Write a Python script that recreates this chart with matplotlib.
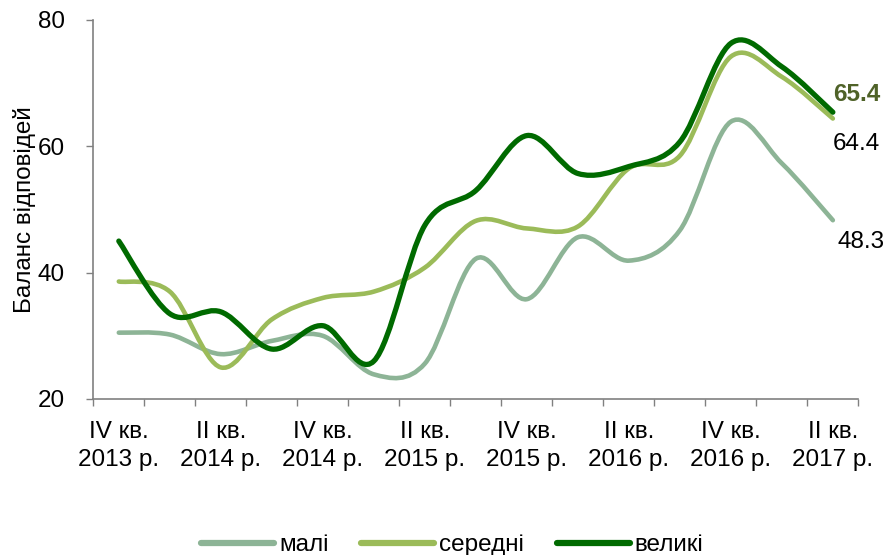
import matplotlib
matplotlib.use("Agg")
import matplotlib.pyplot as plt
from matplotlib.path import Path
from matplotlib.patches import PathPatch
from matplotlib.lines import Line2D
import numpy as np

plt.rcParams['font.family'] = ['Liberation Sans', 'DejaVu Sans']

quarters = ["IV кв.\n2013 р.", "I кв.\n2014 р.", "II кв.\n2014 р.", "III кв.\n2014 р.",
            "IV кв.\n2014 р.", "I кв.\n2015 р.", "II кв.\n2015 р.", "III кв.\n2015 р.",
            "IV кв.\n2015 р.", "I кв.\n2016 р.", "II кв.\n2016 р.", "III кв.\n2016 р.",
            "IV кв.\n2016 р.", "I кв.\n2017 р.", "II кв.\n2017 р."]
mali = [30.5, 30.2, 27.1, 29.2, 30.0, 23.9, 25.6, 42.2, 35.8, 45.6, 41.9, 46.7, 63.9, 57.3, 48.3]
seredni = [38.6, 37.0, 25.0, 32.6, 36.0, 37.0, 40.8, 48.2, 47.0, 47.3, 56.5, 58.5, 74.2, 71.0, 64.4]
velyki = [45.0, 33.5, 33.8, 27.9, 31.6, 26.0, 47.5, 53.0, 61.7, 55.7, 56.8, 60.7, 76.3, 72.6, 65.4]
series_names = ["малі", "середні", "великі"]
colors = ["#8DB496", "#9BBB59", "#006A00"]
widths = [3.3, 3.3, 3.8]

FS = 17.5

fig = plt.figure(figsize=(8.87, 5.55), dpi=100)
ax = fig.add_axes([0.1052, 0.2811, 0.9677 - 0.1052, 0.964 - 0.2811])


def smooth_path(xs, ys):
    pts = np.column_stack([xs, ys]).astype(float)
    n = len(pts)
    verts = [pts[0]]
    codes = [Path.MOVETO]
    for i in range(n - 1):
        p0 = pts[i - 1] if i > 0 else pts[i]
        p1 = pts[i]
        p2 = pts[i + 1]
        p3 = pts[i + 2] if i + 2 < n else pts[i + 1]
        c1 = p1 + (p2 - p0) / 6.0
        c2 = p2 - (p3 - p1) / 6.0
        verts += [c1, c2, p2]
        codes += [Path.CURVE4] * 3
    return Path(verts, codes)


x = np.arange(len(quarters))
for vals, c, lw in zip([mali, seredni, velyki], colors, widths):
    patch = PathPatch(smooth_path(x, vals), facecolor='none', edgecolor=c,
                      lw=lw, capstyle='round', joinstyle='round')
    ax.add_patch(patch)

ax.set_xlim(-0.5, len(quarters) - 0.5)
ax.set_ylim(20, 80)
ax.set_yticks([20, 40, 60, 80])
ax.tick_params(axis='y', labelsize=FS, length=5, width=1, color='#808080', pad=15.5)

ax.set_xticks(np.arange(-0.5, len(quarters), 1.0))
ax.set_xticklabels([])
ax.tick_params(axis='x', which='major', length=5, width=1, color='#808080')
ax.set_xticks(x[::2], minor=True)
ax.set_xticklabels([quarters[i] for i in x[::2]], minor=True, fontsize=FS, linespacing=1.35)
ax.tick_params(axis='x', which='minor', length=0, pad=16)

for s in ['top', 'right']:
    ax.spines[s].set_visible(False)
for s in ['left', 'bottom']:
    ax.spines[s].set_color('#808080')
    ax.spines[s].set_linewidth(1.2)

ax.set_ylabel("Баланс відповідей", fontsize=FS, labelpad=1)

last = len(quarters) - 1
ax.annotate(f"{velyki[-1]:.1f}", (last, velyki[-1]), xytext=(0, 13), textcoords='offset points',
            fontsize=FS, fontweight='bold', color='#4F6228', va='center', ha='left')
ax.annotate(f"{seredni[-1]:.1f}", (last, seredni[-1]), xytext=(0, -18), textcoords='offset points',
            fontsize=FS, color='black', va='center', ha='left')
ax.annotate(f"{mali[-1]:.1f}", (last, mali[-1]), xytext=(3, -15.5), textcoords='offset points',
            fontsize=FS, color='black', va='center', ha='left')

handles = [Line2D([0], [0], color=c, lw=4.5, solid_capstyle='round') for c in colors]
fig.legend(handles, series_names, loc='center', bbox_to_anchor=(0.51, 0.018), ncol=3,
           frameon=False, fontsize=FS, handlelength=3.0, handletextpad=0.2,
           columnspacing=1.35)

fig.savefig("out.png", dpi=100)
